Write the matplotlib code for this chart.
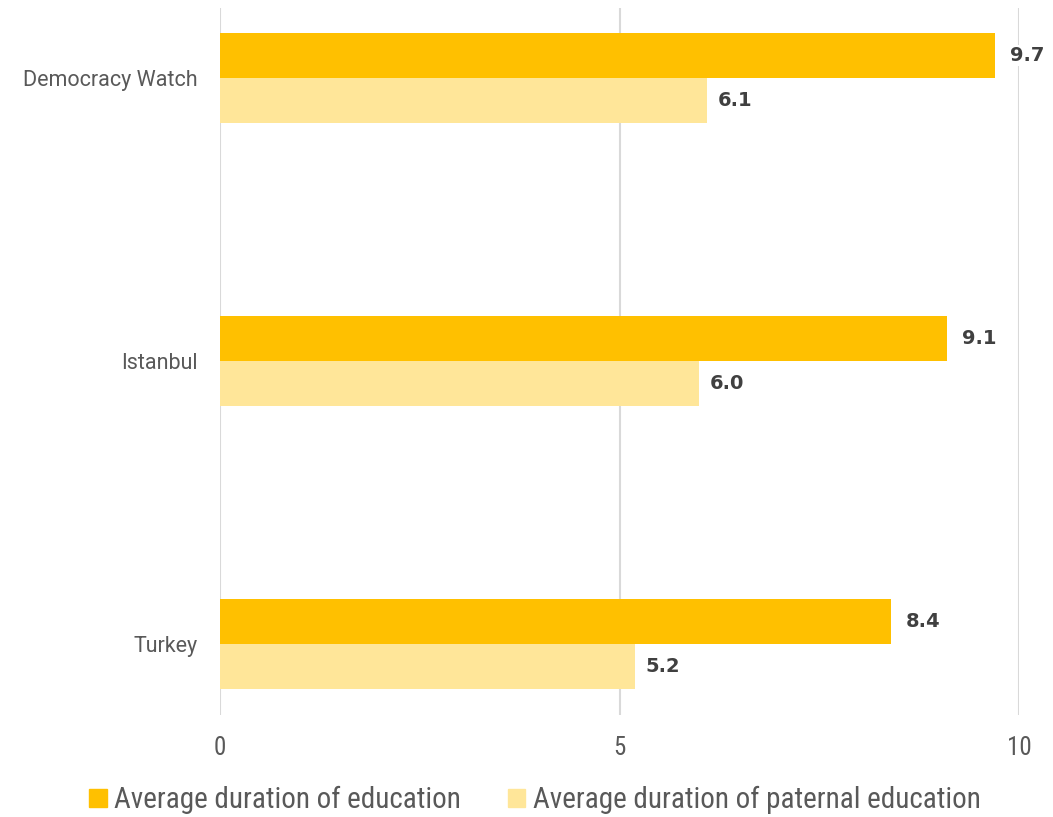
import matplotlib
matplotlib.use("Agg")
import matplotlib.pyplot as plt
from matplotlib import font_manager
from matplotlib.patches import Patch

categories = ["Turkey", "Istanbul", "Democracy Watch"]
education = [8.4, 9.1, 9.7]
paternal = [5.2, 6.0, 6.1]
series_names = ["Average duration of education", "Average duration of paternal education"]
xticks = [0, 5, 10]

def pick(names):
    avail = {f.name for f in font_manager.fontManager.ttflist}
    for n in names:
        if n in avail:
            return n
    return "DejaVu Sans"

narrow = pick(["Liberation Sans Narrow", "DejaVu Sans Condensed", "Roboto Condensed", "Open Sans Condensed", "DejaVu Sans"])
catfont = pick(["Roboto", "Open Sans", "DejaVu Sans"])

c_dark = "#FFC000"
c_light = "#FFE699"

fig = plt.figure(figsize=(10.53, 8.17), dpi=100)
ax = fig.add_axes([220/1053, 1-715/817, (1019-220)/1053, (715-8)/817])

h = 45/283
y = list(range(len(categories)))
ax.barh([v + h/2 for v in y], education, height=h, color=c_dark, zorder=2)
ax.barh([v - h/2 for v in y], paternal, height=h, color=c_light, zorder=2)

for yi, v in zip(y, education):
    ax.annotate(f"{v:.1f}", (v, yi + h/2), xytext=(15, 0), textcoords="offset pixels",
                va="center", ha="left", fontsize=14, fontweight="heavy", color="#404040",
                bbox=dict(facecolor="white", edgecolor="none", pad=1), zorder=3)
for yi, v in zip(y, paternal):
    ax.annotate(f"{v:.1f}", (v, yi - h/2), xytext=(10, 0), textcoords="offset pixels",
                va="center", ha="left", fontsize=14, fontweight="heavy", color="#404040",
                bbox=dict(facecolor="white", edgecolor="none", pad=1), zorder=3)

ax.set_xlim(0, 10)
ax.set_ylim(-0.251, 2.247)
ax.set_xticks(xticks)
ax.set_xticklabels([str(t) for t in xticks], fontfamily=narrow, fontsize=18, color="#595959")
ax.set_yticks(y)
ax.set_yticklabels(categories, fontfamily=catfont, fontsize=15.5, color="#595959")
ax.tick_params(axis="both", length=0)
ax.tick_params(axis="x", pad=15)
ax.tick_params(axis="y", pad=16)
for s in ax.spines.values():
    s.set_visible(False)
ax.grid(axis="x", color="#D9D9D9", linewidth=1.5, zorder=0)
ax.set_axisbelow(True)

handles = [Patch(color=c_dark), Patch(color=c_light)]
fig.legend(handles, series_names, loc="center", bbox_to_anchor=(535/1053, 1-800/817), ncol=2,
           frameon=False, prop=dict(family=narrow, size=21), labelcolor="#595959",
           handlelength=0.6, handleheight=0.6, handletextpad=0.25, columnspacing=1.6)

fig.savefig("out.png", dpi=100)
